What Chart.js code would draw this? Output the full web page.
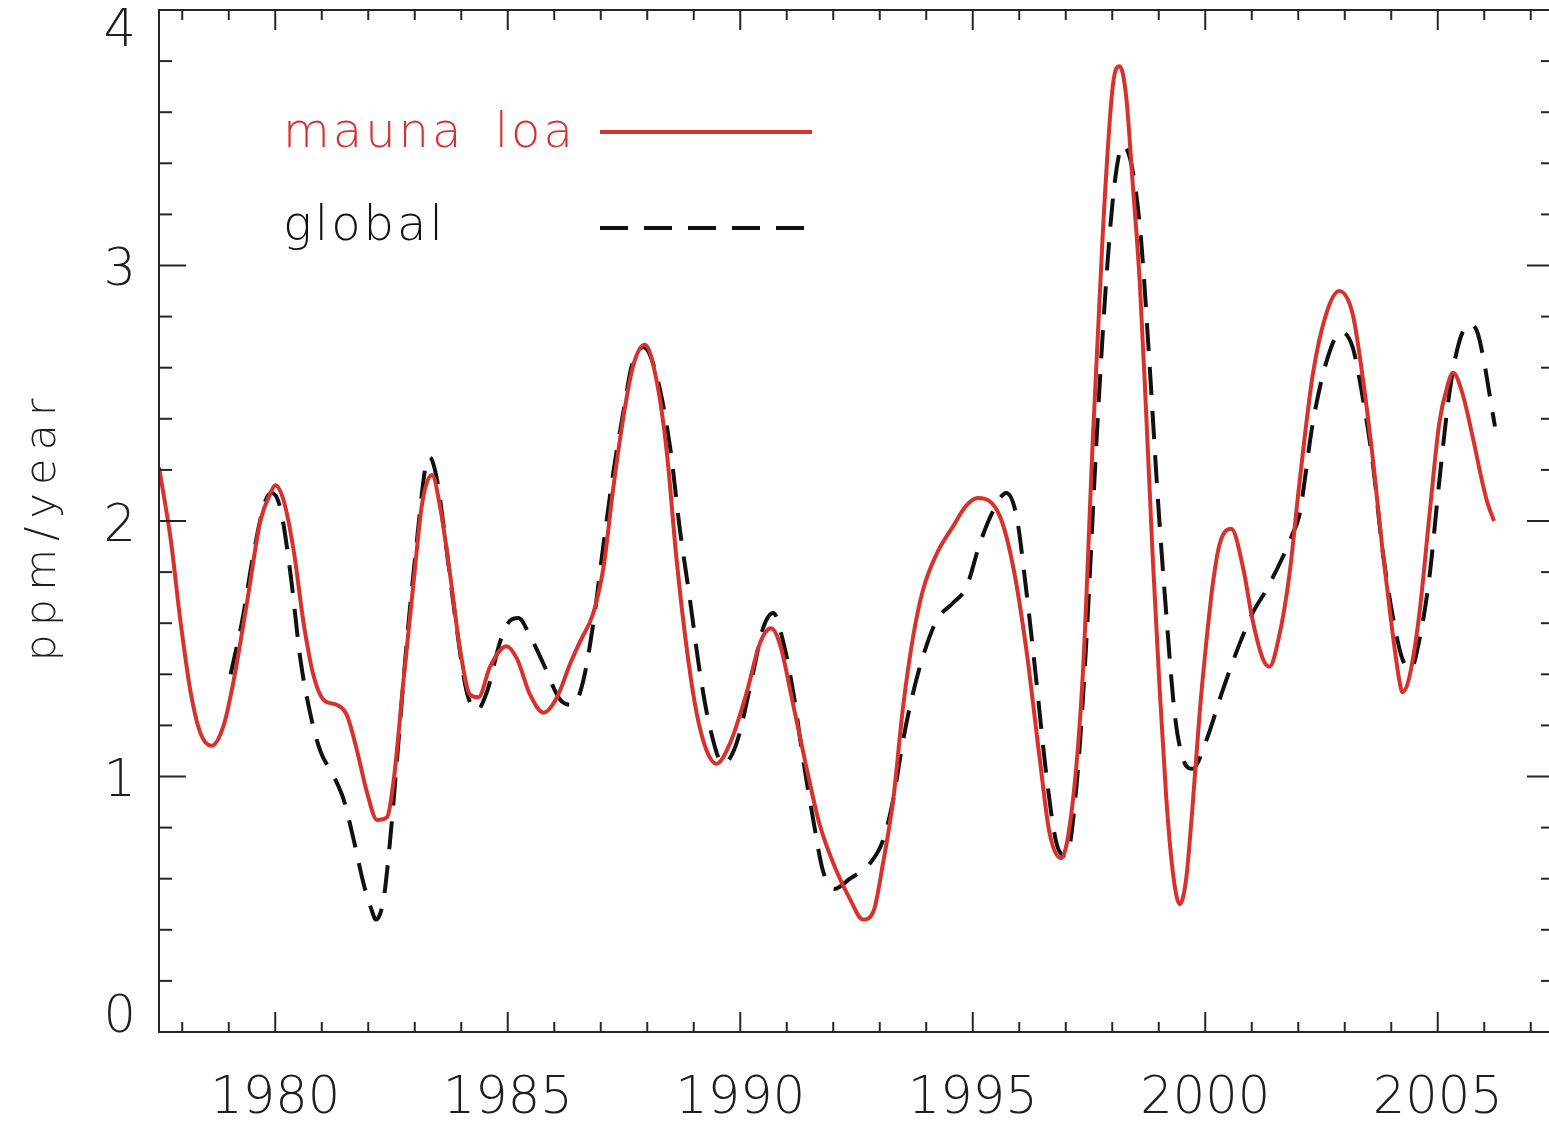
<!DOCTYPE html>
<html>
<head>
<meta charset="utf-8">
<script src="https://cdn.jsdelivr.net/npm/chart.js@4/dist/chart.umd.min.js"></script>
<style>
html,body{margin:0;padding:0;background:#ffffff;overflow:hidden;}
canvas{display:block;}
</style>
</head>
<body>
<canvas id="c" width="1560" height="1121" style="width:1560px;height:1121px"></canvas>
<script>
// ---- data ----
const seriesLabels = ['mauna loa', 'global'];
const yTitle = 'ppm/year';

const redYears = [1977.50,1977.75,1977.96,1978.18,1978.39,1978.63,1978.89,1979.11,1979.40,1979.68,1979.90,1980.00,1980.18,1980.40,1980.61,1980.83,1981.04,1981.33,1981.54,1981.76,1981.97,1982.19,1982.40,1982.55,1982.76,1982.98,1983.16,1983.37,1983.55,1983.76,1983.98,1984.19,1984.37,1984.62,1984.97,1985.20,1985.48,1985.77,1986.06,1986.34,1986.56,1986.84,1987.06,1987.27,1987.49,1987.70,1987.95,1988.20,1988.42,1988.63,1988.85,1989.06,1989.28,1989.49,1989.78,1990.14,1990.42,1990.66,1990.85,1991.14,1991.43,1991.71,1992.07,1992.36,1992.64,1992.86,1993.07,1993.29,1993.50,1993.72,1993.93,1994.22,1994.58,1994.86,1995.11,1995.58,1995.87,1996.15,1996.44,1996.65,1996.90,1997.15,1997.37,1997.58,1997.80,1998.01,1998.16,1998.30,1998.44,1998.59,1998.73,1998.87,1999.02,1999.16,1999.30,1999.45,1999.59,1999.73,1999.88,2000.02,2000.16,2000.31,2000.56,2000.81,2001.02,2001.24,2001.38,2001.59,2001.81,2002.02,2002.31,2002.60,2002.88,2003.17,2003.38,2003.60,2003.81,2004.03,2004.17,2004.24,2004.39,2004.60,2004.82,2005.03,2005.21,2005.33,2005.53,2005.75,2005.96,2006.07,2006.21];
const redValues = [2.21,1.93,1.61,1.33,1.17,1.12,1.20,1.38,1.69,2.00,2.11,2.14,2.08,1.88,1.60,1.39,1.30,1.28,1.24,1.10,0.94,0.83,0.84,0.99,1.38,1.77,2.07,2.18,2.05,1.79,1.49,1.32,1.31,1.43,1.51,1.46,1.32,1.25,1.31,1.44,1.53,1.64,1.82,2.13,2.41,2.61,2.69,2.55,2.27,1.85,1.50,1.25,1.10,1.05,1.13,1.33,1.52,1.58,1.52,1.28,1.03,0.81,0.63,0.52,0.44,0.47,0.66,0.91,1.27,1.55,1.73,1.87,1.98,2.06,2.09,2.02,1.82,1.50,1.07,0.78,0.68,0.90,1.41,2.31,3.14,3.70,3.78,3.66,3.32,2.94,2.42,1.86,1.34,0.92,0.63,0.50,0.60,0.89,1.25,1.52,1.75,1.91,1.97,1.82,1.61,1.46,1.43,1.55,1.79,2.14,2.57,2.81,2.90,2.81,2.57,2.25,1.89,1.56,1.38,1.33,1.39,1.63,2.02,2.38,2.53,2.58,2.50,2.33,2.15,2.07,2.00];

const globalYears = [1979.04,1979.29,1979.54,1979.79,1979.93,1980.11,1980.33,1980.54,1980.76,1980.97,1981.26,1981.47,1981.69,1981.90,1982.05,1982.17,1982.33,1982.47,1982.62,1982.83,1983.05,1983.23,1983.32,1983.48,1983.69,1983.91,1984.12,1984.34,1984.55,1984.84,1985.05,1985.23,1985.48,1985.77,1986.13,1986.41,1986.63,1986.84,1987.06,1987.27,1987.49,1987.67,1987.92,1988.20,1988.49,1988.70,1988.92,1989.13,1989.35,1989.63,1989.92,1990.28,1990.49,1990.71,1990.92,1991.14,1991.35,1991.57,1991.78,1992.03,1992.36,1992.79,1993.07,1993.29,1993.50,1993.72,1993.93,1994.22,1994.58,1994.86,1995.15,1995.44,1995.72,1995.94,1996.15,1996.37,1996.58,1996.80,1997.01,1997.23,1997.44,1997.66,1997.87,1998.05,1998.23,1998.44,1998.62,1998.80,1998.98,1999.16,1999.34,1999.52,1999.73,2000.02,2000.38,2000.74,2001.02,2001.31,2001.67,2001.88,2002.02,2002.31,2002.60,2002.92,2003.17,2003.38,2003.60,2003.81,2004.03,2004.24,2004.42,2004.60,2004.82,2005.03,2005.25,2005.46,2005.68,2005.85,2006.00,2006.11,2006.23];
const globalValues = [1.40,1.61,1.88,2.08,2.11,2.05,1.79,1.46,1.24,1.10,1.00,0.91,0.75,0.58,0.49,0.44,0.52,0.75,1.07,1.53,1.93,2.21,2.25,2.16,1.88,1.57,1.33,1.26,1.33,1.53,1.61,1.62,1.55,1.44,1.30,1.28,1.38,1.60,1.91,2.19,2.43,2.61,2.68,2.57,2.29,1.97,1.69,1.41,1.19,1.05,1.13,1.41,1.58,1.64,1.53,1.33,1.07,0.83,0.63,0.56,0.60,0.66,0.75,0.91,1.14,1.33,1.47,1.61,1.68,1.74,1.91,2.04,2.11,2.02,1.73,1.37,1.01,0.74,0.69,0.96,1.52,2.31,2.94,3.32,3.47,3.37,3.10,2.62,2.09,1.64,1.25,1.07,1.03,1.14,1.34,1.52,1.64,1.73,1.86,1.95,2.02,2.38,2.62,2.74,2.68,2.49,2.23,1.89,1.63,1.46,1.42,1.53,1.78,2.15,2.50,2.70,2.77,2.74,2.62,2.50,2.37];

const xTickValues = [1980, 1985, 1990, 1995, 2000, 2005];
const xTickLabels = ['1980', '1985', '1990', '1995', '2000', '2005'];
const yTickValues = [0, 1, 2, 3, 4];
const yTickLabels = ['0', '1', '2', '3', '4'];

// ---- styling ----
const RED = 'rgb(216,50,46)';
const BLACK = '#111111';
const AXIS = '#262626';
const FONT_FAMILY = '"DejaVu Sans", "Noto Sans", sans-serif';

const idlAxes = {
  id: 'idlAxes',
  afterDraw(chart) {
    const ctx = chart.ctx;
    const a = chart.chartArea;
    const xs = chart.scales.x, ys = chart.scales.y;
    ctx.save();
    ctx.strokeStyle = AXIS;
    ctx.lineWidth = 2;
    ctx.lineCap = 'butt';
    const seg = (x1, y1, x2, y2) => { ctx.beginPath(); ctx.moveTo(x1, y1); ctx.lineTo(x2, y2); ctx.stroke(); };
    // frame
    ctx.strokeRect(a.left, a.top, a.right - a.left, a.bottom - a.top);
    // x ticks (inward, every year; majors every 5)
    for (let yr = Math.ceil(xs.min); yr <= xs.max; yr++) {
      const major = yr % 5 === 0;
      const len = major ? 20 : 10;
      const px = xs.getPixelForValue(yr);
      seg(px, a.bottom, px, a.bottom - len);
      seg(px, a.top, px, a.top + len);
    }
    // y ticks (inward, every 0.2; majors every 1)
    for (let i = 0; i <= 20; i++) {
      const v = i * 0.2;
      const major = i % 5 === 0;
      const len = major ? 27 : 13;
      const py = ys.getPixelForValue(v);
      seg(a.left, py, a.left + len, py);
      seg(a.right, py, a.right - len, py);
    }
    // tick labels
    ctx.fillStyle = '#1e1e1e';
    ctx.font = '200 51px ' + FONT_FAMILY;
    ctx.textAlign = 'center';
    ctx.textBaseline = 'alphabetic';
    xTickValues.forEach((v, i) => {
      ctx.fillText(xTickLabels[i], xs.getPixelForValue(v), a.bottom + 81);
    });
    ctx.textAlign = 'right';
    const cap = 37;
    yTickValues.forEach((v, i) => {
      const py = ys.getPixelForValue(v);
      let base;
      if (v === ys.min) base = py;
      else if (v === ys.max) base = py + cap - 1;
      else base = py + cap / 2 + 1;
      ctx.fillText(yTickLabels[i], a.left - 23, base);
    });
    // y title
    ctx.save();
    ctx.translate(55, (a.top + a.bottom) / 2 + 5);
    ctx.rotate(-Math.PI / 2);
    ctx.textAlign = 'center';
    ctx.font = '200 43px ' + FONT_FAMILY;
    if ('letterSpacing' in ctx) ctx.letterSpacing = '8px';
    ctx.fillText(yTitle, 0, 0);
    ctx.restore();
    // legend
    ctx.font = '200 48px ' + FONT_FAMILY;
    if ('letterSpacing' in ctx) ctx.letterSpacing = '3px';
    if ('wordSpacing' in ctx) ctx.wordSpacing = '12px';
    ctx.textAlign = 'left';
    const items = chart.data.datasets;
    const rows = [{ty: 147, ly: 132}, {ty: 240, ly: 228}];
    items.forEach((ds, i) => {
      ctx.fillStyle = ds.borderColor;
      ctx.fillText(ds.label, 283, rows[i].ty);
      ctx.strokeStyle = ds.borderColor;
      ctx.lineWidth = ds.borderWidth;
      ctx.setLineDash(ds.borderDash || []);
      ctx.beginPath(); ctx.moveTo(600, rows[i].ly); ctx.lineTo(812, rows[i].ly); ctx.stroke();
      ctx.setLineDash([]);
    });
    ctx.restore();
  }
};

const toPts = (xsArr, ysArr) => xsArr.map((x, i) => ({x: x, y: ysArr[i]}));

new Chart(document.getElementById('c'), {
  type: 'line',
  data: {
    datasets: [
      {
        label: seriesLabels[0],
        data: toPts(redYears, redValues),
        borderColor: RED,
        borderWidth: 4,
        pointRadius: 0,
        fill: false,
        cubicInterpolationMode: 'monotone'
      },
      {
        label: seriesLabels[1],
        data: toPts(globalYears, globalValues),
        borderColor: BLACK,
        borderWidth: 4,
        borderDash: [28, 16],
        pointRadius: 0,
        fill: false,
        cubicInterpolationMode: 'monotone'
      }
    ]
  },
  options: {
    responsive: false,
    animation: false,
    devicePixelRatio: 1,
    layout: {padding: {left: 159, top: 10, right: 6, bottom: 89}},
    plugins: {legend: {display: false}, tooltip: {enabled: false}},
    scales: {
      x: {type: 'linear', min: 1977.5, max: 2007.5, display: false},
      y: {type: 'linear', min: 0, max: 4, display: false}
    }
  },
  plugins: [idlAxes]
});
</script>
</body>
</html>
